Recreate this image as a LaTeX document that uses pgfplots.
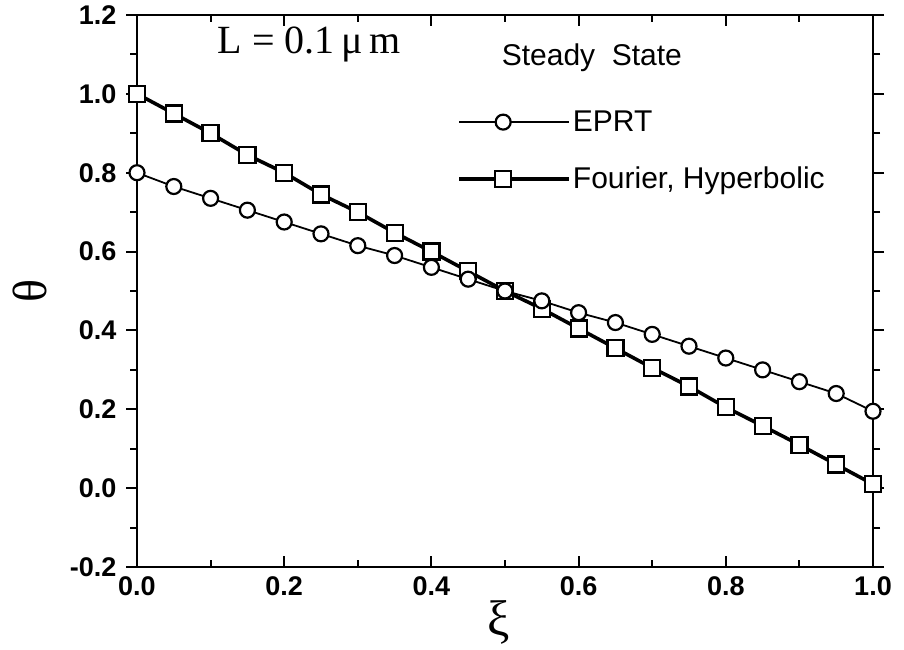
\documentclass[border=0pt]{standalone}
\usepackage{pgfplots}
\pgfplotsset{compat=1.18}
\usepackage{fontspec}
\setmainfont{Liberation Sans}
\newfontfamily\serif{Liberation Serif}
\begin{document}
\begin{tikzpicture}
\path[use as bounding box] (-137pt,-82pt) rectangle (767pt,567pt);
\begin{axis}[
  scale only axis, width=736pt, height=552pt,
  xmin=0, xmax=1, ymin=-0.2, ymax=1.2,
  xtick={0,0.2,...,1.0}, ytick={-0.2,0,...,1.2},
  minor xtick={0.1,0.3,0.5,0.7,0.9},
  minor ytick={-0.1,0.1,0.3,0.5,0.7,0.9,1.1},
  xtick align=inside, ytick align=outside,
  major tick length=11pt, minor tick length=7pt,
  every tick/.style={black, line width=2pt},
  axis line style={line width=2.6pt},
  /pgf/number format/assume math mode=true,
  /pgf/number format/.cd, fixed, fixed zerofill, precision=1, /pgfplots/.cd,
  tick label style={font=\fontsize{27}{29}\selectfont\bfseries},
  xticklabel style={yshift=-6pt},
  yticklabel style={xshift=-6pt},
  xlabel={\serif ξ}, ylabel={\serif θ},
  xlabel style={at={(axis description cs:0.492,-0.101)}, anchor=center, font=\fontsize{50}{52}\selectfont},
  ylabel style={at={(axis description cs:-0.146,0.5)}, anchor=center, font=\fontsize{48}{50}\selectfont},
  clip=false,
  reverse legend,
  legend cell align=left,
  legend style={at={(rel axis cs:0.435,0.83)}, anchor=north west, draw=none, fill=none,
    font=\fontsize{30}{33}\selectfont, row sep=30pt, inner sep=0pt},
  legend image code/.code={\path (0pt,0pt) -- (110pt,0pt); \draw[mark repeat=2,mark phase=2,#1] plot coordinates {(0pt,0pt) (44pt,0pt) (88pt,0pt)};},
]
\addplot[black, line width=3.6pt, mark=square*, mark size=8pt,
  mark options={fill=white, line width=2.2pt, solid}] coordinates {
(0.00,1.000) (0.05,0.950) (0.10,0.900) (0.15,0.845) (0.20,0.800) (0.25,0.745)
(0.30,0.700) (0.35,0.648) (0.40,0.600) (0.45,0.550) (0.50,0.500) (0.55,0.455)
(0.60,0.405) (0.65,0.355) (0.70,0.305) (0.75,0.258) (0.80,0.205) (0.85,0.158)
(0.90,0.110) (0.95,0.060) (1.00,0.010)};
\addlegendentry{Fourier, Hyperbolic}
\addplot[black, line width=1.8pt, mark=*, mark size=7.5pt,
  mark options={fill=white, line width=2.2pt, solid}] coordinates {
(0.00,0.800) (0.05,0.765) (0.10,0.735) (0.15,0.705) (0.20,0.675) (0.25,0.645)
(0.30,0.615) (0.35,0.590) (0.40,0.560) (0.45,0.530) (0.50,0.500) (0.55,0.475)
(0.60,0.445) (0.65,0.420) (0.70,0.390) (0.75,0.360) (0.80,0.330) (0.85,0.300)
(0.90,0.270) (0.95,0.240) (1.00,0.195)};
\addlegendentry{EPRT}
\node[font=\fontsize{30}{33}\selectfont] at (rel axis cs:0.618,0.922) {Steady\ \ State};
\node[font=\serif\fontsize{40}{43}\selectfont] at (rel axis cs:0.234,0.946) {L = 0.1\,μ\,m};
\end{axis}
\end{tikzpicture}
\end{document}
